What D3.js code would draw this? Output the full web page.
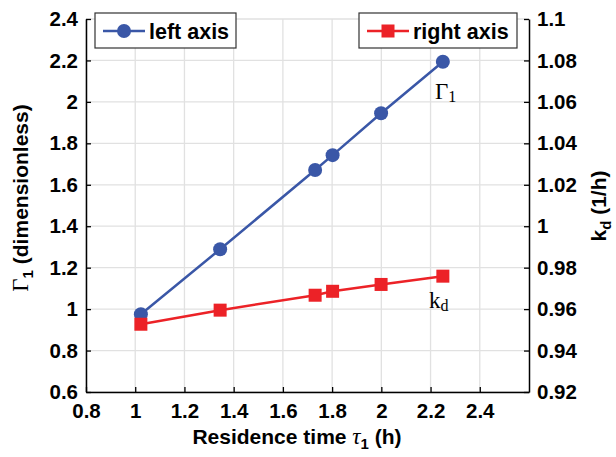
<!DOCTYPE html>
<html>
<head>
<meta charset="utf-8">
<script src="https://cdn.jsdelivr.net/npm/d3@7"></script>
<style>
  body { margin: 0; background: #fff; }
</style>
</head>
<body>
<div id="chart"></div>
<script>
// data
var tau = [1.023, 1.345, 1.731, 1.802, 1.999, 2.25];
var gamma1 = [0.975, 1.289, 1.671, 1.743, 1.945, 2.194];
var kd = [0.9527, 0.9595, 0.9667, 0.9686, 0.9719, 0.9759];

var xTicks = [0.8, 1, 1.2, 1.4, 1.6, 1.8, 2, 2.2, 2.4];
var leftTicks = [0.6, 0.8, 1, 1.2, 1.4, 1.6, 1.8, 2, 2.2, 2.4];
var rightTicks = [0.92, 0.94, 0.96, 0.98, 1, 1.02, 1.04, 1.06, 1.08, 1.1];

var svgWidth = 616, svgHeight = 457;
var plot = { left: 86, right: 529, top: 19, bottom: 392 };

var blue = "#3a57a7", red = "#ec2227";
var sans = "'Liberation Sans', Arial, sans-serif";
var serif = "'Liberation Serif', 'Times New Roman', serif";

var svg = d3.select("#chart")
  .append("svg")
  .attr("width", svgWidth)
  .attr("height", svgHeight)
  .attr("font-family", sans);

var x = d3.scaleLinear().domain([0.8, 2.6]).range([plot.left, plot.right]);
var yl = d3.scaleLinear().domain([0.6, 2.4]).range([plot.bottom, plot.top]);
var yr = d3.scaleLinear().domain([0.92, 1.1]).range([plot.bottom, plot.top]);

// grid
var grid = svg.append("g").attr("stroke", "#e1e1e1").attr("stroke-width", 1.3);
grid.selectAll(".gx")
  .data(xTicks)
  .enter().append("line")
  .attr("x1", d => x(d)).attr("x2", d => x(d))
  .attr("y1", plot.top).attr("y2", plot.bottom);
grid.selectAll(".gy")
  .data(leftTicks)
  .enter().append("line")
  .attr("x1", plot.left).attr("x2", plot.right)
  .attr("y1", d => yl(d)).attr("y2", d => yl(d));

// axes
function styleAxis(g) {
  g.attr("font-family", sans);
  g.selectAll("text")
    .attr("font-size", 20.5)
    .attr("font-weight", "bold")
    .attr("fill", "#000");
  g.selectAll("line").attr("stroke", "#000").attr("stroke-width", 1.3);
  g.select(".domain").attr("stroke", "#000").attr("stroke-width", 1.5);
}

var xaxis = svg.append("g")
  .attr("transform", `translate(0, ${plot.bottom})`)
  .call(d3.axisBottom(x).tickValues(xTicks).tickFormat(d3.format("")).tickSize(-5).tickSizeOuter(0).tickPadding(11))
  .call(styleAxis);

var laxis = svg.append("g")
  .attr("transform", `translate(${plot.left}, 0)`)
  .call(d3.axisLeft(yl).tickValues(leftTicks).tickFormat(d3.format("")).tickSize(-5).tickSizeOuter(0).tickPadding(8))
  .call(styleAxis);

var raxis = svg.append("g")
  .attr("transform", `translate(${plot.right}, 0)`)
  .call(d3.axisRight(yr).tickValues(rightTicks).tickFormat(d3.format("")).tickSize(-5).tickSizeOuter(0).tickPadding(8))
  .call(styleAxis);

// series
var lineL = d3.line().x((d, i) => x(tau[i])).y(d => yl(d));
var lineR = d3.line().x((d, i) => x(tau[i])).y(d => yr(d));

svg.append("path")
  .datum(gamma1)
  .attr("d", lineL)
  .attr("fill", "none")
  .attr("stroke", blue)
  .attr("stroke-width", 2.5);

svg.selectAll(".dotL")
  .data(gamma1)
  .enter().append("circle")
  .attr("cx", (d, i) => x(tau[i]))
  .attr("cy", d => yl(d))
  .attr("r", 7)
  .attr("fill", blue);

svg.append("path")
  .datum(kd)
  .attr("d", lineR)
  .attr("fill", "none")
  .attr("stroke", red)
  .attr("stroke-width", 2.5);

svg.selectAll(".sqR")
  .data(kd)
  .enter().append("rect")
  .attr("x", (d, i) => x(tau[i]) - 6.5)
  .attr("y", d => yr(d) - 6.5)
  .attr("width", 13)
  .attr("height", 13)
  .attr("fill", red);

// annotations
var g1 = svg.append("text")
  .attr("x", 435).attr("y", 99)
  .attr("font-family", serif)
  .attr("font-size", 23);
g1.append("tspan").text("Γ");
g1.append("tspan").attr("font-size", 16).attr("dy", 3).text("1");

var kdt = svg.append("text")
  .attr("x", 429).attr("y", 308)
  .attr("font-family", serif)
  .attr("font-size", 23);
kdt.append("tspan").text("k");
kdt.append("tspan").attr("font-size", 16).attr("dy", 3).text("d");

// legends
function legend(x0, w, color, marker, label) {
  var g = svg.append("g");
  g.append("rect")
    .attr("x", x0).attr("y", 13)
    .attr("width", w).attr("height", 35)
    .attr("fill", "#fff")
    .attr("stroke", "#333")
    .attr("stroke-width", 1.2);
  g.append("line")
    .attr("x1", x0 + 8).attr("x2", x0 + 50)
    .attr("y1", 31).attr("y2", 31)
    .attr("stroke", color).attr("stroke-width", 2.5);
  if (marker === "circle") {
    g.append("circle").attr("cx", x0 + 29).attr("cy", 31).attr("r", 7).attr("fill", color);
  } else {
    g.append("rect").attr("x", x0 + 22.5).attr("y", 24.5).attr("width", 13).attr("height", 13).attr("fill", color);
  }
  g.append("text")
    .attr("x", x0 + 54).attr("y", 39)
    .attr("font-size", 21.5)
    .attr("font-weight", "bold")
    .text(label);
}
legend(95, 141, blue, "circle", "left axis");
legend(359, 158, red, "square", "right axis");

// axis titles
var xt = svg.append("text")
  .attr("x", 297).attr("y", 444)
  .attr("text-anchor", "middle")
  .attr("font-size", 21)
  .attr("font-weight", "bold");
xt.append("tspan").text("Residence time ");
xt.append("tspan").attr("font-family", serif).attr("font-style", "italic").attr("font-weight", "normal").attr("font-size", 23).text("τ");
xt.append("tspan").attr("font-size", 15).attr("dy", 5).text("1");
xt.append("tspan").attr("dy", -5).text(" (h)");

var ylab = svg.append("text")
  .attr("transform", "translate(28, 198) rotate(-90)")
  .attr("text-anchor", "middle")
  .attr("font-size", 21)
  .attr("font-weight", "bold");
ylab.append("tspan").attr("font-family", serif).attr("font-weight", "normal").attr("font-size", 23).text("Γ");
ylab.append("tspan").attr("font-size", 15).attr("dy", 5).text("1");
ylab.append("tspan").attr("dy", -5).text(" (dimensionless)");

var rlab = svg.append("text")
  .attr("transform", "translate(606, 206) rotate(-90)")
  .attr("text-anchor", "middle")
  .attr("font-size", 21)
  .attr("font-weight", "bold");
rlab.append("tspan").text("k");
rlab.append("tspan").attr("font-size", 15).attr("dy", 5).text("d");
rlab.append("tspan").attr("dy", -5).text(" (1/h)");
</script>
</body>
</html>
